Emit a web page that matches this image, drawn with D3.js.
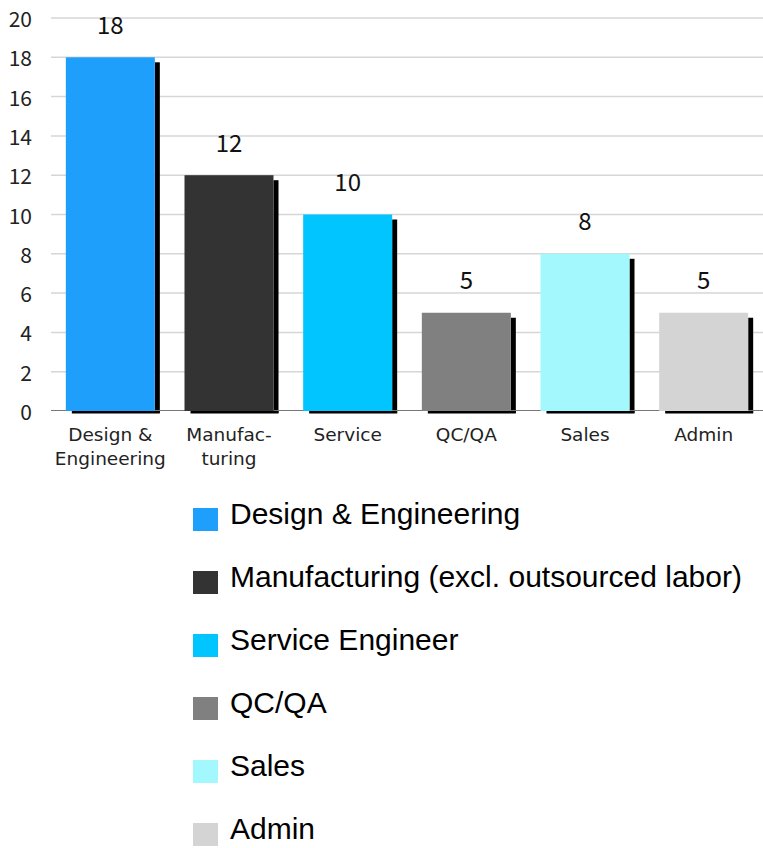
<!DOCTYPE html>
<html>
<head>
<meta charset="utf-8">
<script src="https://cdn.jsdelivr.net/npm/d3@7"></script>
<style>
html,body{margin:0;padding:0;background:#fff;}
svg{display:block;}
</style>
</head>
<body>
<svg id="chart" width="763" height="848"></svg>
<script>
const categories = ["Design & Engineering", "Manufacturing", "Service", "QC/QA", "Sales", "Admin"];
const axisLabels = [["Design &", "Engineering"], ["Manufac-", "turing"], ["Service"], ["QC/QA"], ["Sales"], ["Admin"]];
const values = [18, 12, 10, 5, 8, 5];
const colors = ["#1E9FFB", "#333333", "#00C5FF", "#808080", "#A2F8FC", "#D4D4D4"];
const legendLabels = ["Design & Engineering", "Manufacturing (excl. outsourced labor)", "Service Engineer", "QC/QA", "Sales", "Admin"];
const yTicks = [0, 2, 4, 6, 8, 10, 12, 14, 16, 18, 20];

(function() {
const svg = d3.select("#chart");
const pL = 51, pR = 763, pT = 18, pB = 411;
const x = d3.scaleBand().domain(categories).range([pL, pR]).paddingInner(0.25).paddingOuter(0.125);
const y = d3.scaleLinear().domain([0, 20]).range([pB, pT]);
const labelFont = "'Noto Sans CJK KR', 'DejaVu Sans', sans-serif";

// gridlines
svg.append("g").selectAll("line").data(yTicks.filter(d => d > 0)).join("line")
  .attr("x1", pL).attr("x2", pR)
  .attr("y1", d => y(d)).attr("y2", d => y(d))
  .attr("stroke", "#d6d6d6").attr("stroke-width", 1.5);

// y tick labels
svg.append("g").selectAll("text").data(yTicks).join("text")
  .attr("x", 32).attr("y", d => y(d))
  .attr("text-anchor", "end").attr("dominant-baseline", "central")
  .attr("font-family", labelFont).attr("font-size", 21).attr("fill", "#222")
  .text(d => d);

const data = categories.map((c, i) => ({c, v: values[i], col: colors[i], lab: axisLabels[i]}));
const sh = 5;
// shadows
const g = svg.append("g");
g.selectAll("rect.sr").data(data).join("rect").attr("class", "sr")
  .attr("x", d => x(d.c) + x.bandwidth())
  .attr("y", d => y(d.v) + sh)
  .attr("width", sh)
  .attr("height", d => pB - y(d.v) - sh + 2)
  .attr("fill", "#000");
g.selectAll("rect.sb").data(data).join("rect").attr("class", "sb")
  .attr("x", d => x(d.c) + 6)
  .attr("y", pB)
  .attr("width", x.bandwidth() - 1)
  .attr("height", 2.5)
  .attr("fill", "#000");

// axis line
svg.append("line").attr("x1", pL).attr("x2", pR).attr("y1", pB - 0.5).attr("y2", pB - 0.5)
  .attr("stroke", "#777").attr("stroke-width", 1.2);

// bars
svg.append("g").selectAll("rect").data(data).join("rect")
  .attr("x", d => x(d.c)).attr("y", d => y(d.v))
  .attr("width", x.bandwidth()).attr("height", d => pB - y(d.v))
  .attr("fill", d => d.col);

// value labels
svg.append("g").selectAll("text").data(data).join("text")
  .attr("x", d => x(d.c) + x.bandwidth() / 2)
  .attr("y", d => y(d.v) - 34)
  .attr("text-anchor", "middle").attr("dominant-baseline", "central")
  .attr("font-family", labelFont).attr("font-size", 24).attr("fill", "#111")
  .text(d => d.v);

// x labels (one text per line)
data.forEach(d => {
  d.lab.forEach((line, k) => {
    svg.append("text")
      .attr("x", x(d.c) + x.bandwidth() / 2).attr("y", 434 + k * 24)
      .attr("text-anchor", "middle").attr("dominant-baseline", "central")
      .attr("font-family", "'DejaVu Sans', sans-serif").attr("font-size", 18.5).attr("fill", "#222")
      .text(line);
  });
});

// legend
const leg = svg.append("g").selectAll("g").data(legendLabels).join("g")
  .attr("transform", (d, i) => `translate(193, ${513 + i * 63})`);
leg.append("rect").attr("x", 0).attr("y", -5).attr("width", 25).attr("height", 23)
  .attr("fill", (d, i) => colors[i]);
leg.append("text").attr("x", 37).attr("y", 0)
  .attr("dominant-baseline", "central")
  .attr("font-family", "'Liberation Sans', Arial, sans-serif").attr("font-size", 30).attr("fill", "#000")
  .text(d => d);
})();
</script>
</body>
</html>
